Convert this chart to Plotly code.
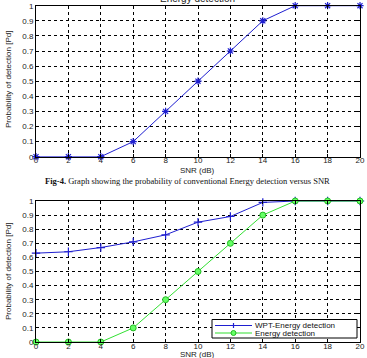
import plotly.graph_objects as go

snr = [0, 2, 4, 6, 8, 10, 12, 14, 16, 18, 20]
pd_energy = [0, 0, 0, 0.1, 0.3, 0.5, 0.7, 0.9, 1.0, 1.0, 1.0]
pd_wpt = [0.63, 0.64, 0.67, 0.71, 0.76, 0.85, 0.89, 0.99, 1.0, 1.0, 1.0]
x_ticks = [0, 2, 4, 6, 8, 10, 12, 14, 16, 18, 20]
y_ticks = [0, 0.1, 0.2, 0.3, 0.4, 0.5, 0.6, 0.7, 0.8, 0.9, 1]
y_tick_text = ["0", "0.1", "0.2", "0.3", "0.4", "0.5", "0.6", "0.7", "0.8", "0.9", "1"]
legend_names = ["WPT-Energy detection", "Energy detection"]

W, H = 367, 358
BLUE = "#1f1fd0"
GREEN = "#33e033"
FONT = "Liberation Sans"

fig = go.Figure()

# Top chart: conventional energy detection
fig.add_trace(go.Scatter(
    x=snr, y=pd_energy, mode="lines+markers", xaxis="x", yaxis="y",
    line=dict(color=BLUE, width=1),
    marker=dict(symbol="asterisk-open", size=6, line=dict(color=BLUE, width=1.2)),
    showlegend=False, cliponaxis=False,
))

# Bottom chart
fig.add_trace(go.Scatter(
    x=snr, y=pd_wpt, mode="lines+markers", xaxis="x2", yaxis="y2",
    name=legend_names[0], showlegend=False,
    line=dict(color=BLUE, width=1),
    marker=dict(symbol="cross-thin-open", size=6, line=dict(color=BLUE, width=1.2)),
    cliponaxis=False,
))
fig.add_trace(go.Scatter(
    x=snr, y=pd_energy, mode="lines+markers", xaxis="x2", yaxis="y2",
    name=legend_names[1], showlegend=False,
    line=dict(color=GREEN, width=1),
    marker=dict(symbol="circle", size=6, color="#66ff66", line=dict(color="#22bb22", width=1)),
    cliponaxis=False,
))

xdom = [36 / W, 360 / W]
top_dom = [1 - 156.7 / H, 1 - 5.7 / H]
bot_dom = [1 - 342 / H, 1 - 201 / H]

def xax(anchor):
    return dict(domain=xdom, range=[0, 20], tickvals=x_ticks, anchor=anchor,
                showline=True, linecolor="black", linewidth=1, mirror="ticks",
                ticks="inside", ticklen=3, tickcolor="black", automargin=False,
                ticklabelstandoff=-4,
                showgrid=True, gridcolor="black", griddash="dot", gridwidth=1,
                zeroline=False, tickfont=dict(family=FONT, size=8, color="#222"),
                fixedrange=True)

def yax(dom, anchor):
    return dict(domain=dom, range=[0, 1], tickvals=y_ticks, ticktext=y_tick_text, anchor=anchor,
                showline=True, linecolor="black", linewidth=1, mirror="ticks",
                ticks="inside", ticklen=3, tickcolor="black", automargin=False,
                showgrid=True, gridcolor="black", griddash="dot", gridwidth=1,
                zeroline=False, tickfont=dict(family=FONT, size=8, color="#222"),
                fixedrange=True)

ann = []
shapes = []
ytitle = "Probability of detection [Pd]"
for yc in [1 - 80 / H, 1 - 272 / H]:
    ann.append(dict(text=ytitle, x=8 / W, y=yc, xref="paper", yref="paper",
                    textangle=-90, showarrow=False, xanchor="center", yanchor="middle",
                    font=dict(family=FONT, size=8, color="#222")))
for yc in [1 - 170.5 / H, 1 - 354 / H]:
    ann.append(dict(text="SNR (dB)", x=197 / W, y=yc, xref="paper", yref="paper",
                    showarrow=False, xanchor="center", yanchor="middle",
                    font=dict(family=FONT, size=8, color="#222")))
ann.append(dict(text="Energy detection", x=197 / W, y=1 + 1.5 / H, xref="paper", yref="paper",
                showarrow=False, xanchor="center", yanchor="middle",
                font=dict(family=FONT, size=10, color="#222")))
ann.append(dict(text="<b>Fig-4.</b> Graph showing the probability of conventional Energy detection versus SNR",
                x=187 / W, y=1 - 180.5 / H, xref="paper", yref="paper",
                showarrow=False, xanchor="center", yanchor="middle",
                font=dict(family="Liberation Serif", size=8.5, color="#111")))

# Legend box (compact, MATLAB style)
def px(x):
    return x / W

def py(y):
    return 1 - y / H

shapes.append(dict(type="rect", xref="paper", yref="paper",
                   x0=px(212), x1=px(357), y0=py(338), y1=py(319.5),
                   fillcolor="white", line=dict(color="black", width=1), layer="above"))
leg_rows = [(325.5, BLUE), (333, GREEN)]
for (yy, col), name in zip(leg_rows, legend_names):
    shapes.append(dict(type="line", xref="paper", yref="paper",
                       x0=px(215), x1=px(252), y0=py(yy), y1=py(yy),
                       line=dict(color=col, width=1.2), layer="above"))
    ann.append(dict(text=name, x=px(253), y=py(yy), xref="paper", yref="paper",
                    showarrow=False, xanchor="left", yanchor="middle",
                    font=dict(family=FONT, size=8, color="#111")))
# legend marker samples
shapes.append(dict(type="line", xref="paper", yref="paper",
                   x0=px(233.5), x1=px(233.5), y0=py(323), y1=py(328),
                   line=dict(color=BLUE, width=1.2), layer="above"))
shapes.append(dict(type="circle", xref="paper", yref="paper",
                   x0=px(231), x1=px(236), y0=py(335.5), y1=py(330.5),
                   fillcolor="#66ff66", line=dict(color="#22bb22", width=1), layer="above"))

fig.update_layout(
    width=W, height=H, margin=dict(l=0, r=0, t=0, b=0),
    paper_bgcolor="white", plot_bgcolor="white",
    xaxis=xax("y"), yaxis=yax(top_dom, "x"),
    xaxis2=xax("y2"), yaxis2=yax(bot_dom, "x2"),
    annotations=ann, shapes=shapes, showlegend=False,
)

fig.write_html("out.html")
